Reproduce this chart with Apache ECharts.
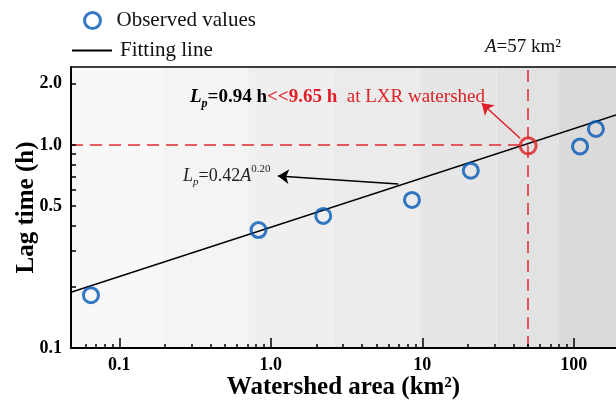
<!DOCTYPE html>
<html><head><meta charset="utf-8">
<script src="https://cdn.jsdelivr.net/npm/echarts@6/dist/echarts.min.js"></script>
<style>html,body{margin:0;padding:0;background:#fff}#c{width:616px;height:401px}</style>
</head><body><div id="c"></div>
<script>
// ---- data ----
const areaObs = [0.065, 0.83, 2.22, 8.55, 20.9, 110, 140];
const lagObs  = [0.182, 0.381, 0.447, 0.536, 0.747, 0.983, 1.199];
const lxrArea = [50];
const lxrLag  = [0.99];
const fitArea = [0.048, 190];
const fitLag  = [0.188, 1.405];
const bandEdges = [0.048, 0.194, 0.71, 2.6, 9.6, 31, 80, 190];
const xLabelTicks = [0.1, 1, 10, 100];
const xMinorTicks = [0.06,0.07,0.08,0.09,0.2,0.3,0.4,0.5,0.6,0.7,0.8,0.9,2,3,4,5,6,7,8,9,20,30,40,50,60,70,80,90];
const yLabelTicks = [0.1, 0.5, 1, 2];
const yTicks = [0.1,0.2,0.3,0.4,0.5,0.6,0.7,0.8,0.9,1,2];
const arrowRed   = [[44.2, 1.079], [24.7, 1.605]];
const arrowBlack = [[6.95, 0.643], [1.114, 0.704]];
const xRange = [0.048, 190];
const yRange = [0.1, 2.42];

// ---- styles ----
const FONT = '"Liberation Serif","Times New Roman",serif';
const bandColors = ['#f8f8f8','#f4f4f4','#efefef','#ebebeb','#e6e6e6','#e2e2e2','#dadada'];
const BLUE = '#0058b4', RED = '#e01f26';

const bands = [];
for (let i = 0; i < bandEdges.length - 1; i++) {
  bands.push([{xAxis: bandEdges[i], yAxis: yRange[0], itemStyle: {color: bandColors[i]}},
              {xAxis: bandEdges[i+1], yAxis: yRange[1]}]);
}

const chart = echarts.init(document.getElementById('c'), null, {renderer: 'canvas'});
const tickLine = {color: '#000', width: 1.5};
const option = {
  animation: false,
  textStyle: {fontFamily: FONT},
  grid: {left: 71, right: 0, top: 67, bottom: 53, show: false, containLabel: false, outerBoundsMode: 'none'},
  legend: [
    {data: [{name: 'Observed values', icon: 'circle',
             itemStyle: {color: 'rgba(0,0,0,0)', borderColor: BLUE, borderWidth: 3}}],
     left: 78, top: 5, itemWidth: 16, itemHeight: 16, selectedMode: false,
     textStyle: {fontSize: 21, color: '#111', fontFamily: FONT, padding: [0,0,0,11]}},
    {data: [{name: 'Fitting line', icon: 'rect', itemStyle: {color: '#000'}}],
     left: 67, top: 35, itemWidth: 40, itemHeight: 2, selectedMode: false,
     textStyle: {fontSize: 21, color: '#111', fontFamily: FONT, padding: [0,0,0,3]}}
  ],
  xAxis: [
    {type: 'log', min: xRange[0], max: xRange[1], position: 'bottom', z: 10,
     axisLine: {show: true, lineStyle: {color: '#000', width: 2}},
     axisTick: {show: true, inside: true, length: 10, customValues: xLabelTicks, lineStyle: tickLine},
     axisLabel: {customValues: xLabelTicks, margin: 8, fontSize: 18, fontWeight: 'bold', color: '#000', fontFamily: FONT,
       formatter: v => v < 0.5 ? '0.1' : (v < 5 ? '1.0' : String(Math.round(v)))},
     splitLine: {show: false}, minorTick: {show: false},
     name: 'Watershed area (km²)', nameLocation: 'middle', nameGap: 27, nameMoveOverlap: false,
     nameTextStyle: {fontSize: 25, fontWeight: 'bold', color: '#000', fontFamily: FONT}},
    {type: 'log', min: xRange[0], max: xRange[1], position: 'bottom', z: 10,
     axisLine: {show: false},
     axisTick: {show: true, inside: true, length: 4, customValues: xMinorTicks, lineStyle: tickLine},
     axisLabel: {show: false}, splitLine: {show: false}},
    {type: 'log', min: xRange[0], max: xRange[1], position: 'top', z: 10,
     axisLine: {show: true, lineStyle: {color: '#000', width: 1.5}},
     axisTick: {show: false}, axisLabel: {show: false}, splitLine: {show: false}}
  ],
  yAxis: [
    {type: 'log', min: yRange[0], max: yRange[1], z: 10,
     axisLine: {show: true, lineStyle: {color: '#000', width: 2}},
     axisTick: {show: true, inside: true, length: 5, customValues: yTicks, lineStyle: tickLine},
     axisLabel: {customValues: yLabelTicks, margin: 9, fontSize: 18, fontWeight: 'bold', color: '#000', fontFamily: FONT,
       formatter: v => v.toFixed(1)},
     splitLine: {show: false},
     name: 'Lag time (h)', nameLocation: 'middle', nameGap: 32, nameRotate: 90, nameMoveOverlap: false,
     nameTextStyle: {fontSize: 25, fontWeight: 'bold', color: '#000', fontFamily: FONT}}
  ],
  series: [
    {name: 'bands', type: 'scatter', data: [], z: 1, silent: true,
     markArea: {silent: true, data: bands}},
    {name: 'Fitting line', type: 'line', z: 3, symbol: 'none', showSymbol: false,
     data: fitArea.map((a, i) => [a, fitLag[i]]),
     lineStyle: {color: '#000', width: 1.5},
     markLine: {silent: true, symbol: ['none', 'arrow'], symbolSize: 11, label: {show: false},
       lineStyle: {color: '#000', width: 1.5, type: 'solid'},
       data: [[{coord: arrowBlack[0]}, {coord: arrowBlack[1]}]]}},
    {name: 'LXR', type: 'scatter', z: 5, symbol: 'circle', symbolSize: 16,
     data: lxrArea.map((a, i) => [a, lxrLag[i]]),
     itemStyle: {color: 'rgba(0,0,0,0)', borderColor: RED, borderWidth: 3},
     markLine: {silent: true, symbol: 'none', label: {show: false},
       lineStyle: {color: '#e0282e', width: 1.5, type: [12, 7]},
       data: [[{coord: [xRange[0], 1]}, {coord: [lxrArea[0], 1]}],
              [{coord: [lxrArea[0], yRange[0]]}, {coord: [lxrArea[0], yRange[1]]}]]}},
    {name: 'LXR arrow', type: 'scatter', z: 4, data: [],
     markLine: {silent: true, symbol: ['none', 'arrow'], symbolSize: 11, label: {show: false},
       lineStyle: {color: RED, width: 1.5, type: 'solid'},
       data: [[{coord: arrowRed[0]}, {coord: arrowRed[1]}]]}},
    {name: 'Observed values', type: 'scatter', z: 6, symbol: 'circle', symbolSize: 15,
     data: areaObs.map((a, i) => [a, lagObs[i]]),
     itemStyle: {color: 'rgba(0,0,0,0)', borderColor: BLUE, borderWidth: 3}}
  ],
  graphic: [
    {type: 'text', x: 190, y: 97, z: 50, style: {
      text: '{L|L}{p|p}{b|=0.94 h}{rb|<<9.65 h}{r|  at LXR watershed}', verticalAlign: 'middle',
      rich: {
        L: {fontSize: 19, fontWeight: 'bold', fontStyle: 'italic', fill: '#000', fontFamily: FONT, lineHeight: 26, verticalAlign: 'middle'},
        p: {fontSize: 12, fontWeight: 'bold', fontStyle: 'italic', fill: '#000', fontFamily: FONT, lineHeight: 12, verticalAlign: 'bottom'},
        b: {fontSize: 19, fontWeight: 'bold', fill: '#000', fontFamily: FONT, lineHeight: 26, verticalAlign: 'middle'},
        rb: {fontSize: 19, fontWeight: 'bold', fill: RED, fontFamily: FONT, lineHeight: 26, verticalAlign: 'middle'},
        r: {fontSize: 19, fill: RED, fontFamily: FONT, lineHeight: 26, verticalAlign: 'middle'}
      }}},
    {type: 'text', x: 183, y: 176, z: 50, style: {
      text: '{L|L}{p|p}{n|=0.42}{A|A}{s|0.20}', verticalAlign: 'middle',
      rich: {
        L: {fontSize: 18, fontStyle: 'italic', fill: '#222', fontFamily: FONT, lineHeight: 24, verticalAlign: 'middle'},
        p: {fontSize: 11, fontStyle: 'italic', fill: '#222', fontFamily: FONT, lineHeight: 11, verticalAlign: 'bottom'},
        n: {fontSize: 18, fill: '#222', fontFamily: FONT, lineHeight: 24, verticalAlign: 'middle'},
        A: {fontSize: 18, fontStyle: 'italic', fill: '#222', fontFamily: FONT, lineHeight: 24, verticalAlign: 'middle'},
        s: {fontSize: 11, fill: '#222', fontFamily: FONT, lineHeight: 11, verticalAlign: 'top'}
      }}},
    {type: 'text', x: 485, y: 47, z: 50, style: {
      text: '{A|A}{n|=57 km²}', verticalAlign: 'middle',
      rich: {
        A: {fontSize: 19, fontStyle: 'italic', fill: '#111', fontFamily: FONT},
        n: {fontSize: 19, fill: '#111', fontFamily: FONT}
      }}}
  ]
};
chart.setOption(option);
</script>
</body></html>
